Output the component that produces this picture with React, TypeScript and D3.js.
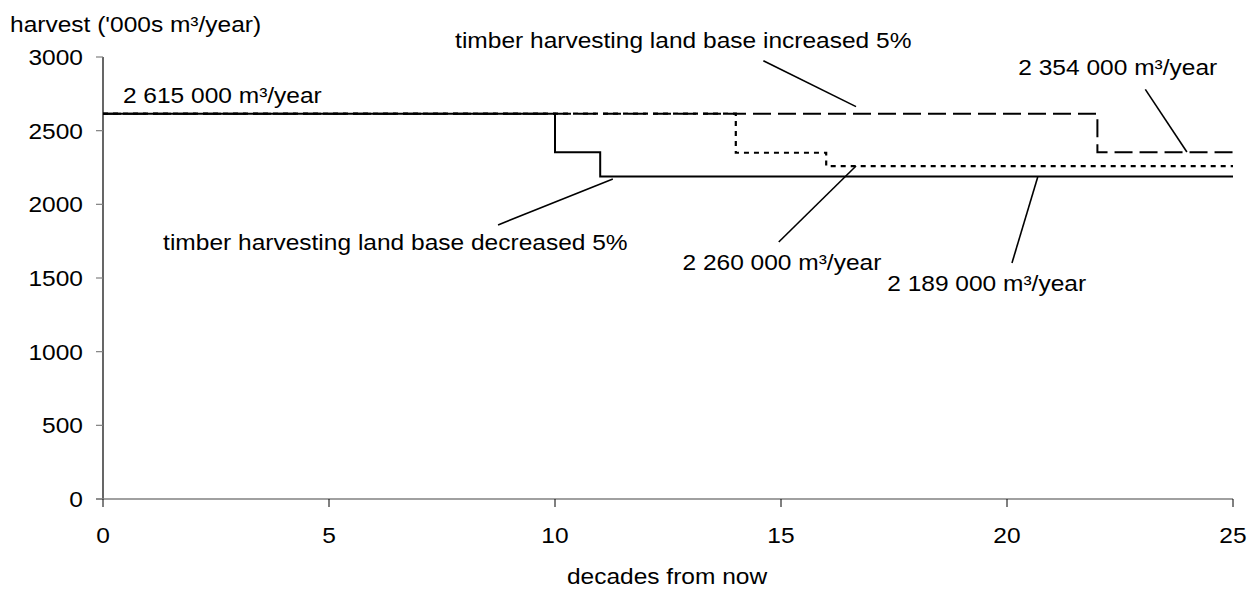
import React from "react";
import * as d3 from "d3";

// ---- data ----
const xTicks = [0, 5, 10, 15, 20, 25];
const yTicks = [0, 500, 1000, 1500, 2000, 2500, 3000];

// step series: [decade, harvest ('000s m3/yr)], value holds until next point
const decreasedSeries: [number, number][] = [
  [0, 2615], [10, 2354], [11, 2189], [25, 2189],
];
const increasedSeries: [number, number][] = [
  [0, 2615], [22, 2354], [25, 2354],
];
const baseSeries: [number, number][] = [
  [0, 2615], [14, 2350], [16, 2260], [25, 2260],
];

const yAxisTitle = "harvest ('000s m³/year)";
const xAxisTitle = "decades from now";

// annotations: text anchor (decade, value) and optional leader line in data units
const annotationTexts = [
  "2 615 000 m³/year",
  "timber harvesting land base increased 5%",
  "2 354 000 m³/year",
  "timber harvesting land base decreased 5%",
  "2 260 000 m³/year",
  "2 189 000 m³/year",
];
const annotationAnchors: [number, number][] = [
  [0.44, 2688],
  [7.79, 3061],
  [20.25, 2878],
  [1.33, 1690],
  [12.82, 1557],
  [17.35, 1415],
];
const annotationLeaders: ([number, number, number, number] | null)[] = [
  null,
  [14.61, 2975, 16.66, 2663],
  [23.06, 2780, 23.98, 2355],
  [8.74, 1860, 11.28, 2172],
  [14.95, 1744, 16.66, 2260],
  [20.11, 1602, 20.68, 2186],
];

const W = 1253;
const H = 590;
const SX = 1.09;
const FS = 22.5;
const FONT = "'Liberation Sans', Arial, Helvetica, sans-serif";

const x = d3.scaleLinear().domain([0, 25]).range([103, 1233]);
const y = d3.scaleLinear().domain([0, 3000]).range([499, 57]);

const stepLine = d3
  .line<[number, number]>()
  .x((d) => x(d[0]))
  .y((d) => y(d[1]))
  .curve(d3.curveStepAfter);

function T(props: {
  x: number;
  y: number;
  anchor?: "start" | "middle" | "end";
  children: React.ReactNode;
}) {
  return (
    <text
      transform={`translate(${props.x},${props.y}) scale(${SX},1)`}
      textAnchor={props.anchor || "start"}
      fontFamily={FONT}
      fontSize={FS}
      fill="#000"
    >
      {props.children}
    </text>
  );
}

export default function App() {
  return (
    <svg
      width={W}
      height={H}
      style={{ position: "absolute", left: 0, top: 0, background: "#fff" }}
    >
      <rect width={W} height={H} fill="#fff" />
      {/* y axis */}
      <line x1={x(0)} x2={x(0)} y1={y(3000)} y2={y(0)} stroke="#000" strokeWidth={1.2} />
      {yTicks.map((t) => (
        <g key={"y" + t}>
          <line x1={x(0) - 7} x2={x(0)} y1={y(t)} y2={y(t)} stroke="#808080" strokeWidth={1.2} />
          <T x={x(0) - 20} y={y(t) + 8} anchor="end">
            {t}
          </T>
        </g>
      ))}
      {/* x axis */}
      <line x1={x(0) - 7} x2={x(25)} y1={y(0)} y2={y(0)} stroke="#808080" strokeWidth={1.6} />
      {xTicks.map((t) => (
        <g key={"x" + t}>
          <line x1={x(t)} x2={x(t)} y1={y(0)} y2={y(0) + 8} stroke="#000" strokeWidth={1} />
          <T x={x(t)} y={543} anchor="middle">
            {t}
          </T>
        </g>
      ))}
      <T x={10} y={32}>{yAxisTitle}</T>
      <T x={(x(0) + x(25)) / 2 - 1} y={584} anchor="middle">
        {xAxisTitle}
      </T>

      {/* series */}
      <path d={stepLine(baseSeries) || ""} fill="none" stroke="#000" strokeWidth={2.2} strokeDasharray="5 5" />
      <path d={stepLine(increasedSeries) || ""} fill="none" stroke="#000" strokeWidth={2} strokeDasharray="18 7" />
      <path d={stepLine(decreasedSeries) || ""} fill="none" stroke="#000" strokeWidth={2} />

      {/* annotations */}
      {annotationTexts.map((s, i) => {
        const a = annotationAnchors[i];
        const l = annotationLeaders[i];
        return (
          <g key={"a" + i}>
            {l && (
              <line
                x1={x(l[0])}
                y1={y(l[1])}
                x2={x(l[2])}
                y2={y(l[3])}
                stroke="#000"
                strokeWidth={1.6}
              />
            )}
            <T x={x(a[0])} y={y(a[1])}>
              {s}
            </T>
          </g>
        );
      })}
    </svg>
  );
}
